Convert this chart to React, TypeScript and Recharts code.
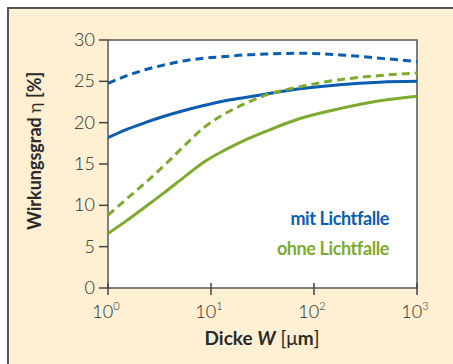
import React from "react";
import { LineChart, Line, XAxis, YAxis } from "recharts";

const thickness = [1, 1.46, 2.29, 3.57, 5.6, 8.7, 13.7, 21.4, 33.4, 73, 178, 437, 1000];
const mitDashed = [24.75, 25.6, 26.4, 27.0, 27.5, 27.8, 28.0, 28.2, 28.3, 28.4, 28.2, 27.8, 27.4];
const mitSolid = [18.2, 19.1, 20.0, 20.8, 21.5, 22.1, 22.65, 23.05, 23.45, 24.1, 24.6, 24.9, 25.0];
const ohneDashed = [8.8, 10.6, 12.7, 14.9, 17.3, 19.5, 21.1, 22.3, 23.3, 24.35, 25.2, 25.7, 26.0];
const ohneSolid = [6.6, 8.0, 9.8, 11.6, 13.5, 15.3, 16.7, 17.9, 18.9, 20.5, 21.7, 22.65, 23.2];
const xTicks = [1, 10, 100, 1000];
const xExponents = ["0", "1", "2", "3"];
const yTicks = [0, 5, 10, 15, 20, 25, 30];
const legendLabels = ["mit Lichtfalle", "ohne Lichtfalle"];

const BLUE = "#0B5DAF";
const GREEN = "#7EAA2F";
const FONT = "'Lato', 'DejaVu Sans', sans-serif";

const data = thickness.map((w, i) => ({
  w,
  mitD: mitDashed[i],
  mitS: mitSolid[i],
  ohneD: ohneDashed[i],
  ohneS: ohneSolid[i],
}));

const XTick = (props: any) => {
  const { x, payload } = props;
  const idx = xTicks.indexOf(payload.value);
  return (
    <g>
      <line x1={x} x2={x} y1={283} y2={295} stroke="#444" strokeWidth={1.5} />
      <text x={x - 2} y={318} textAnchor="middle" fill="#2a2a2a" fontFamily={FONT} fontSize={18} fontWeight={300}>
        <tspan>10</tspan>
        <tspan dy={-8} fontSize={11}>{xExponents[idx]}</tspan>
      </text>
    </g>
  );
};

const YTick = (props: any) => {
  const { y, payload } = props;
  return (
    <text x={95} y={y + 6} textAnchor="end" fill="#2a2a2a" fontFamily={FONT} fontSize={18} fontWeight={300}>
      {payload.value}
    </text>
  );
};

export default function App() {
  return (
    <div
      style={{
        position: "absolute",
        left: 0,
        top: 0,
        width: 453,
        height: 364,
        background: "#ffffff",
      }}
    >
      <div
        style={{
          position: "absolute",
          left: 7,
          top: 7,
          width: 446,
          height: 357,
          background: "#FFF0D3",
          borderLeft: "2px solid #555",
          borderTop: "2px solid #555",
          boxSizing: "border-box",
        }}
      />
      <div style={{ position: "absolute", left: 0, top: 0 }}>
        <LineChart
          width={453}
          height={364}
          data={data}
          margin={{ top: 40, right: 36, bottom: 0, left: 0 }}
        >
          <rect x={108} y={40} width={309} height={248} fill="#ffffff" />
          <XAxis
            dataKey="w"
            type="number"
            scale="log"
            domain={[1, 1000]}
            ticks={xTicks}
            axisLine={false}
            tickLine={false}
            tick={<XTick />}
            height={76}
            allowDataOverflow
          />
          <YAxis
            type="number"
            domain={[0, 30]}
            ticks={yTicks}
            axisLine={false}
            tickLine={{ stroke: "#444", strokeWidth: 1.5 }}
            tickSize={9}
            tick={<YTick />}
            width={108}
          />
          <Line dataKey="mitD" type="monotone" stroke={BLUE} strokeWidth={3} strokeDasharray="8 5" dot={false} isAnimationActive={false} />
          <Line dataKey="mitS" type="monotone" stroke={BLUE} strokeWidth={3} dot={false} isAnimationActive={false} />
          <Line dataKey="ohneD" type="monotone" stroke={GREEN} strokeWidth={3} strokeDasharray="8 5" dot={false} isAnimationActive={false} />
          <Line dataKey="ohneS" type="monotone" stroke={GREEN} strokeWidth={3} dot={false} isAnimationActive={false} />
          <rect x={108} y={40} width={309} height={248} fill="none" stroke="#555" strokeWidth={1.5} />
          <text x={389} y={225} textAnchor="end" fill={BLUE} fontFamily={FONT} fontSize={18} fontWeight={700} letterSpacing={-0.4}>
            {legendLabels[0]}
          </text>
          <text x={389} y={255} textAnchor="end" fill={GREEN} fontFamily={FONT} fontSize={18} fontWeight={700} letterSpacing={-0.4}>
            {legendLabels[1]}
          </text>
          <text x={262} y={345} textAnchor="middle" fill="#2a2a2a" fontFamily={FONT} fontSize={19} fontWeight={700}>
            <tspan>Dicke </tspan>
            <tspan fontStyle="italic">W</tspan>
            <tspan fontWeight={400}> [</tspan>
            <tspan fontWeight={400}>μ</tspan>
            <tspan>m</tspan>
            <tspan fontWeight={400}>]</tspan>
          </text>
          <text
            x={41}
            y={151}
            transform="rotate(-90 41 151)"
            textAnchor="middle"
            fill="#2a2a2a"
            fontFamily={FONT}
            fontSize={18}
            fontWeight={700}
          >
            <tspan>Wirkungsgrad </tspan>
            <tspan fontWeight={400}>η</tspan>
            <tspan> [%]</tspan>
          </text>
        </LineChart>
      </div>
    </div>
  );
}
